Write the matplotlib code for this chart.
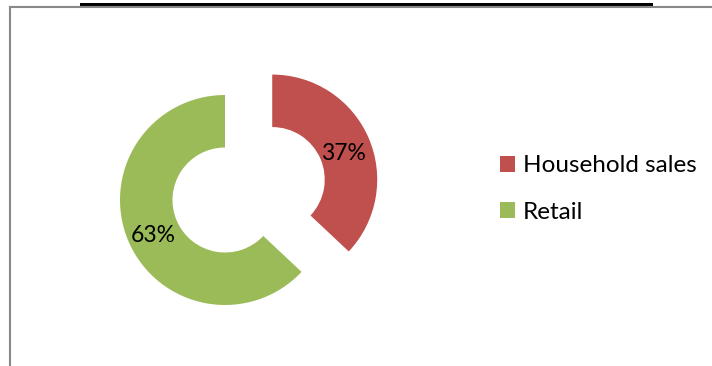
import matplotlib.pyplot as plt
from matplotlib.patches import Rectangle
from matplotlib.lines import Line2D

plt.rcParams['font.family'] = ['Lato', 'DejaVu Sans']

labels = ['Household sales', 'Retail']
shares = [37, 63]
colors = ['#C0504D', '#9BBB59']
explode = [0.49, 0]

W, H = 712, 366
fig = plt.figure(figsize=(W / 100, H / 100), dpi=100)

# pie axes spans the whole figure, 1 data unit = 105 px
ax = fig.add_axes([0, 0, 1, 1])
r_px = 105.0
cx, cy = 225, 200

wedges, texts, autotexts = ax.pie(
    shares, colors=colors, explode=explode, startangle=90, counterclock=False,
    radius=1, wedgeprops=dict(width=0.5, linewidth=0),
    autopct='%1.0f%%', pctdistance=0.74, textprops=dict(fontsize=16.5, color='black'))

# nudge the percent labels down a little
for t in autotexts:
    x, y = t.get_position()
    t.set_position((x, y - 5 / r_px))

# pie() sets its own limits, so override afterwards
ax.set_xlim(-cx / r_px, (W - cx) / r_px)
ax.set_ylim(-(H - cy) / r_px, cy / r_px)
ax.set_aspect('equal')
ax.axis('off')

ax.legend(wedges, labels, loc='center left', bbox_to_anchor=(500 / W, 1 - 189 / H),
          bbox_transform=fig.transFigure, frameon=False, fontsize=17.5,
          borderpad=0, borderaxespad=0,
          handlelength=0.62, handleheight=0.62, handletextpad=0.32, labelspacing=1.05)

# frame pieces and the dark header strip
fig.add_artist(Rectangle((80 / W, 1 - 7 / H), 573 / W, 4 / H, transform=fig.transFigure,
                         facecolor='black', edgecolor='none'))
fig.add_artist(Line2D([10 / W, 1], [1 - 7 / H, 1 - 7 / H], transform=fig.transFigure,
                      color='#888888', linewidth=1.5))
fig.add_artist(Line2D([10 / W, 10 / W], [0, 1 - 7 / H], transform=fig.transFigure,
                      color='#888888', linewidth=1.5))

fig.savefig('out.png', dpi=100, facecolor='white')
